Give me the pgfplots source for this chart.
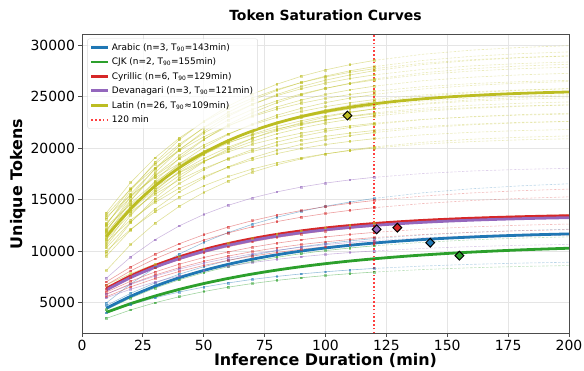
\documentclass[border=0pt]{standalone}
\usepackage{fontspec}
\setmainfont{DejaVu Sans}
\usepackage{pgfplots}
\pgfplotsset{compat=1.18}
\definecolor{cAr}{HTML}{1F77B4}
\definecolor{cCJ}{HTML}{2CA02C}
\definecolor{cCy}{HTML}{D62728}
\definecolor{cDe}{HTML}{9467BD}
\definecolor{cLa}{HTML}{BCBD22}
\newcommand{\thinl}[3]{%
 \addplot[color=#1, opacity=0.45, line width=0.6bp, mark=square*, mark size=0.9bp, forget plot] coordinates {#2};
 \addplot[color=#1, opacity=0.3, line width=0.6bp, dash pattern=on 2.5bp off 1.5bp, forget plot] coordinates {#3};
}
\begin{document}
\begin{tikzpicture}
\begin{axis}[
 name=ax, scale only axis, width=487bp, height=298.6bp,
 xmin=0, xmax=200, ymin=2000, ymax=31000,
 xtick={0,25,...,200}, ytick={5000,10000,15000,20000,25000,30000},
 scaled y ticks=false,
 /pgf/number format/1000 sep={},
 /pgf/number format/assume math mode=true,
 tick label style={font=\fontsize{14}{16}\selectfont},
 tick align=outside, tick pos=left, major tick length=3.5bp,
 grid=major, major grid style={black!10, line width=0.6pt},
 axis line style={black!70, line width=0.8pt},
 every tick/.style={black!70, line width=0.8pt},
 xlabel={Inference Duration (min)},
 ylabel={Unique Tokens},
 xlabel style={font=\fontsize{16}{18}\selectfont\bfseries, at={(axis description cs:0.5,-0.092)}, anchor=center},
 ylabel style={font=\fontsize{16}{18}\selectfont\bfseries, at={(axis description cs:-0.1314,0.5)}, anchor=center},
 title={Token Saturation Curves},
 title style={font=\fontsize{14}{16}\selectfont\bfseries, at={(axis description cs:0.5,1.045)}, anchor=center},
 legend style={at={(axis description cs:0.011,0.987)}, anchor=north west,
   font=\fontsize{9}{11}\selectfont, draw=black!15, rounded corners=2pt,
   fill=white, fill opacity=0.8, text opacity=1, inner sep=2.5pt, row sep=2.2bp},
 legend cell align=left,
]
% ---------- Latin thin lines ----------
\thinl{cLa}{(10,8100)(20,10630)(30,12680)(40,14340)(50,15680)(60,16770)(70,17650)(80,18370)(90,18940)(100,19410)(110,19790)(120,20100)}{(120,20100)(140,20550)(160,20850)(180,21040)(200,21170)}
\thinl{cLa}{(10,6700)(20,7797)(30,8725)(40,9510)(50,10175)(60,10738)(70,11214)(80,11618)(90,11959)(100,12248)(110,12492)(120,12700)}{(120,12700)(140,13023)(160,13255)(180,13421)(200,13540)}
\thinl{cLa}{(10,9500)(20,12030)(30,14080)(40,15740)(50,17080)(60,18170)(70,19050)(80,19770)(90,20340)(100,20810)(110,21190)(120,21500)}{(120,21500)(140,21950)(160,22250)(180,22440)(200,22570)}
\thinl{cLa}{(10,9800)(20,12750)(30,15140)(40,17070)(50,18640)(60,19910)(70,20940)(80,21780)(90,22450)(100,23000)(110,23440)(120,23800)}{(120,23800)(140,24330)(160,24670)(180,24900)(200,25050)}
\thinl{cLa}{(10,10000)(20,12110)(30,13810)(40,15200)(50,16320)(60,17220)(70,17960)(80,18550)(90,19040)(100,19430)(110,19740)(120,20000)}{(120,20000)(140,20380)(160,20620)(180,20790)(200,20890)}
\thinl{cLa}{(10,10300)(20,12830)(30,14880)(40,16540)(50,17880)(60,18970)(70,19850)(80,20570)(90,21140)(100,21610)(110,21990)(120,22300)}{(120,22300)(140,22750)(160,23050)(180,23240)(200,23370)}
\thinl{cLa}{(10,10500)(20,13450)(30,15840)(40,17770)(50,19340)(60,20610)(70,21640)(80,22480)(90,23150)(100,23700)(110,24140)(120,24500)}{(120,24500)(140,25030)(160,25370)(180,25600)(200,25750)}
\thinl{cLa}{(10,10700)(20,14070)(30,16800)(40,19010)(50,20800)(60,22260)(70,23430)(80,24390)(90,25160)(100,25780)(110,26290)(120,26700)}{(120,26700)(140,27300)(160,27700)(180,27960)(200,28130)}
\thinl{cLa}{(10,10900)(20,13010)(30,14710)(40,16100)(50,17220)(60,18120)(70,18860)(80,19450)(90,19940)(100,20330)(110,20640)(120,20900)}{(120,20900)(140,21280)(160,21520)(180,21690)(200,21790)}
\thinl{cLa}{(10,11100)(20,13630)(30,15680)(40,17340)(50,18680)(60,19770)(70,20650)(80,21370)(90,21940)(100,22410)(110,22790)(120,23100)}{(120,23100)(140,23550)(160,23850)(180,24040)(200,24170)}
\thinl{cLa}{(10,11200)(20,14150)(30,16540)(40,18470)(50,20040)(60,21310)(70,22340)(80,23180)(90,23850)(100,24400)(110,24840)(120,25200)}{(120,25200)(140,25730)(160,26070)(180,26300)(200,26450)}
\thinl{cLa}{(10,11400)(20,13930)(30,15980)(40,17640)(50,18980)(60,20070)(70,20950)(80,21670)(90,22240)(100,22710)(110,23090)(120,23400)}{(120,23400)(140,23850)(160,24150)(180,24340)(200,24470)}
\thinl{cLa}{(10,11500)(20,14870)(30,17600)(40,19810)(50,21600)(60,23060)(70,24230)(80,25190)(90,25960)(100,26580)(110,27090)(120,27500)}{(120,27500)(140,28100)(160,28500)(180,28760)(200,28930)}
\thinl{cLa}{(10,11700)(20,13810)(30,15510)(40,16900)(50,18020)(60,18920)(70,19660)(80,20250)(90,20740)(100,21130)(110,21440)(120,21700)}{(120,21700)(140,22080)(160,22320)(180,22490)(200,22590)}
\thinl{cLa}{(10,11800)(20,14330)(30,16380)(40,18040)(50,19380)(60,20470)(70,21350)(80,22070)(90,22640)(100,23110)(110,23490)(120,23800)}{(120,23800)(140,24250)(160,24550)(180,24740)(200,24870)}
\thinl{cLa}{(10,12000)(20,14950)(30,17340)(40,19270)(50,20840)(60,22110)(70,23140)(80,23980)(90,24650)(100,25200)(110,25640)(120,26000)}{(120,26000)(140,26530)(160,26870)(180,27100)(200,27250)}
\thinl{cLa}{(10,12100)(20,14630)(30,16680)(40,18340)(50,19680)(60,20770)(70,21650)(80,22370)(90,22940)(100,23410)(110,23790)(120,24100)}{(120,24100)(140,24550)(160,24850)(180,25040)(200,25170)}
\thinl{cLa}{(10,11900)(20,15270)(30,18000)(40,20210)(50,22000)(60,23460)(70,24630)(80,25590)(90,26360)(100,26980)(110,27490)(120,27900)}{(120,27900)(140,28500)(160,28900)(180,29160)(200,29330)}
\thinl{cLa}{(10,12400)(20,14510)(30,16210)(40,17600)(50,18720)(60,19620)(70,20360)(80,20950)(90,21440)(100,21830)(110,22140)(120,22400)}{(120,22400)(140,22780)(160,23020)(180,23190)(200,23290)}
\thinl{cLa}{(10,12600)(20,15550)(30,17940)(40,19870)(50,21440)(60,22710)(70,23740)(80,24580)(90,25250)(100,25800)(110,26240)(120,26600)}{(120,26600)(140,27130)(160,27470)(180,27700)(200,27850)}
\thinl{cLa}{(10,12700)(20,15230)(30,17280)(40,18940)(50,20280)(60,21370)(70,22250)(80,22970)(90,23540)(100,24010)(110,24390)(120,24700)}{(120,24700)(140,25150)(160,25450)(180,25640)(200,25770)}
\thinl{cLa}{(10,12500)(20,15870)(30,18600)(40,20810)(50,22600)(60,24060)(70,25230)(80,26190)(90,26960)(100,27580)(110,28090)(120,28500)}{(120,28500)(140,29100)(160,29500)(180,29760)(200,29930)}
\thinl{cLa}{(10,13100)(20,16050)(30,18440)(40,20370)(50,21940)(60,23210)(70,24240)(80,25080)(90,25750)(100,26300)(110,26740)(120,27100)}{(120,27100)(140,27630)(160,27970)(180,28200)(200,28350)}
\thinl{cLa}{(10,13300)(20,15410)(30,17110)(40,18500)(50,19620)(60,20520)(70,21260)(80,21850)(90,22340)(100,22730)(110,23040)(120,23300)}{(120,23300)(140,23680)(160,23920)(180,24090)(200,24190)}
\thinl{cLa}{(10,13500)(20,16030)(30,18080)(40,19740)(50,21080)(60,22170)(70,23050)(80,23770)(90,24340)(100,24810)(110,25190)(120,25500)}{(120,25500)(140,25950)(160,26250)(180,26440)(200,26570)}
\thinl{cLa}{(10,13700)(20,16650)(30,19040)(40,20970)(50,22540)(60,23810)(70,24840)(80,25680)(90,26350)(100,26900)(110,27340)(120,27700)}{(120,27700)(140,28230)(160,28570)(180,28800)(200,28950)}
% ---------- Arabic thin ----------
\thinl{cAr}{(10,4950)(20,6805)(30,8376)(40,9704)(50,10829)(60,11781)(70,12587)(80,13269)(90,13846)(100,14335)(110,14749)(120,15100)}{(120,15100)(140,15647)(160,16039)(180,16320)(200,16521)}
\thinl{cAr}{(10,4700)(20,5888)(30,6894)(40,7745)(50,8465)(60,9075)(70,9591)(80,10027)(90,10397)(100,10710)(110,10975)(120,11200)}{(120,11200)(140,11550)(160,11801)(180,11981)(200,12110)}
\thinl{cAr}{(10,4000)(20,4786)(30,5451)(40,6014)(50,6491)(60,6894)(70,7235)(80,7524)(90,7769)(100,7976)(110,8151)(120,8300)}{(120,8300)(140,8532)(160,8698)(180,8817)(200,8902)}
% ---------- CJK thin ----------
\thinl{cCJ}{(10,4300)(20,5433)(30,6393)(40,7204)(50,7891)(60,8473)(70,8965)(80,9382)(90,9734)(100,10033)(110,10285)(120,10500)}{(120,10500)(140,10834)(160,11074)(180,11245)(200,11368)}
\thinl{cCJ}{(10,3450)(20,4273)(30,4969)(40,5558)(50,6056)(60,6479)(70,6836)(80,7138)(90,7394)(100,7611)(110,7794)(120,7950)}{(120,7950)(140,8193)(160,8366)(180,8491)(200,8580)}
% ---------- Cyrillic thin ----------
\thinl{cCy}{(10,7000)(20,8444)(30,9666)(40,10700)(50,11576)(60,12317)(70,12944)(80,13475)(90,13924)(100,14304)(110,14627)(120,14900)}{(120,14900)(140,15326)(160,15631)(180,15850)(200,16006)}
\thinl{cCy}{(10,6700)(20,8071)(30,9231)(40,10213)(50,11044)(60,11748)(70,12343)(80,12847)(90,13274)(100,13635)(110,13941)(120,14200)}{(120,14200)(140,14604)(160,14894)(180,15102)(200,15250)}
\thinl{cCy}{(10,6300)(20,7415)(30,8359)(40,9157)(50,9833)(60,10405)(70,10890)(80,11300)(90,11647)(100,11940)(110,12189)(120,12400)}{(120,12400)(140,12729)(160,12964)(180,13133)(200,13254)}
\thinl{cCy}{(10,6000)(20,7060)(30,7958)(40,8717)(50,9359)(60,9903)(70,10364)(80,10754)(90,11084)(100,11363)(110,11599)(120,11800)}{(120,11800)(140,12113)(160,12337)(180,12497)(200,12612)}
\thinl{cCy}{(10,5800)(20,6805)(30,7656)(40,8376)(50,8986)(60,9502)(70,9938)(80,10308)(90,10621)(100,10885)(110,11110)(120,11300)}{(120,11300)(140,11596)(160,11809)(180,11961)(200,12070)}
\thinl{cCy}{(10,5550)(20,6510)(30,7322)(40,8009)(50,8591)(60,9083)(70,9500)(80,9853)(90,10152)(100,10404)(110,10618)(120,10800)}{(120,10800)(140,11083)(160,11286)(180,11431)(200,11535)}
% ---------- Devanagari thin ----------
\thinl{cDe}{(10,7350)(20,9414)(30,11087)(40,12442)(50,13539)(60,14429)(70,15149)(80,15733)(90,16205)(100,16589)(110,16899)(120,17150)}{(120,17150)(140,17519)(160,17761)(180,17920)(200,18025)}
\thinl{cDe}{(10,5800)(20,6751)(30,7555)(40,8236)(50,8812)(60,9300)(70,9712)(80,10062)(90,10358)(100,10608)(110,10820)(120,11000)}{(120,11000)(140,11280)(160,11481)(180,11625)(200,11728)}
\thinl{cDe}{(10,5450)(20,6282)(30,6986)(40,7581)(50,8085)(60,8512)(70,8873)(80,9179)(90,9438)(100,9657)(110,9843)(120,10000)}{(120,10000)(140,10245)(160,10421)(180,10547)(200,10637)}
% ---------- thick mean curves ----------
\addplot[color=cAr, line width=2.8bp, smooth] coordinates {(10,4436)(20,5593)(30,6572)(40,7401)(50,8102)(60,8696)(70,9199)(80,9624)(90,9984)(100,10289)(110,10547)(120,10766)(130,10950)(140,11107)(150,11239)(160,11351)(170,11447)(180,11527)(190,11595)(200,11652)};
\addlegendentry{Arabic (n=3, T\textsubscript{90}=143min)}
\addplot[color=cCJ, line width=2.8bp, smooth] coordinates {(10,4035)(20,4880)(30,5619)(40,6266)(50,6831)(60,7327)(70,7761)(80,8139)(90,8472)(100,8762)(110,9017)(120,9239)(130,9434)(140,9605)(150,9754)(160,9885)(170,9998)(180,10099)(190,10186)(200,10263)};
\addlegendentry{CJK (n=2, T\textsubscript{90}=155min)}
\addplot[color=cCy, line width=2.8bp, smooth] coordinates {(10,6354)(20,7568)(30,8578)(40,9422)(50,10125)(60,10711)(70,11199)(80,11607)(90,11946)(100,12230)(110,12466)(120,12663)(130,12827)(140,12964)(150,13078)(160,13173)(170,13252)(180,13318)(190,13373)(200,13420)};
\addlegendentry{Cyrillic (n=6, T\textsubscript{90}=129min)}
\addplot[color=cDe, line width=2.8bp, smooth] coordinates {(10,6206)(20,7413)(30,8417)(40,9256)(50,9955)(60,10538)(70,11023)(80,11429)(90,11766)(100,12048)(110,12283)(120,12479)(130,12641)(140,12778)(150,12891)(160,12986)(170,13064)(180,13130)(190,13185)(200,13231)};
\addlegendentry{Devanagari (n=3, T\textsubscript{90}=121min)}
\addplot[color=cLa, line width=2.8bp, smooth] coordinates {(10,11384)(20,14101)(30,16303)(40,18088)(50,19531)(60,20703)(70,21652)(80,22420)(90,23042)(100,23548)(110,23956)(120,24286)(130,24555)(140,24772)(150,24949)(160,25090)(170,25207)(180,25301)(190,25376)(200,25438)};
\addlegendentry{Latin (n=26, T\textsubscript{90}≈109min)}
\addplot[color=red, opacity=0.75, line width=1.6bp, dash pattern=on 1.6bp off 2.2bp] coordinates {(120,2000)(120,31000)};
\addlegendentry{120 min}
% ---------- T90 diamonds ----------
\addplot[only marks, mark=diamond*, mark size=4.4bp, mark options={xscale=1.33, fill=cAr, draw=black, line width=1bp}, forget plot] coordinates {(143,10800)};
\addplot[only marks, mark=diamond*, mark size=4.4bp, mark options={xscale=1.33, fill=cCJ, draw=black, line width=1bp}, forget plot] coordinates {(155,9540)};
\addplot[only marks, mark=diamond*, mark size=4.4bp, mark options={xscale=1.33, fill=cCy, draw=black, line width=1bp}, forget plot] coordinates {(129.5,12260)};
\addplot[only marks, mark=diamond*, mark size=4.4bp, mark options={xscale=1.33, fill=cDe, draw=black, line width=1bp}, forget plot] coordinates {(121,12100)};
\addplot[only marks, mark=diamond*, mark size=4.4bp, mark options={xscale=1.33, fill=cLa, draw=black, line width=1bp}, forget plot] coordinates {(109,23150)};
\end{axis}
\pgfresetboundingbox
\path ([xshift=-82bp,yshift=-37.7bp]ax.south west) rectangle ([xshift=15bp,yshift=34.7bp]ax.north east);
\end{tikzpicture}
\end{document}
